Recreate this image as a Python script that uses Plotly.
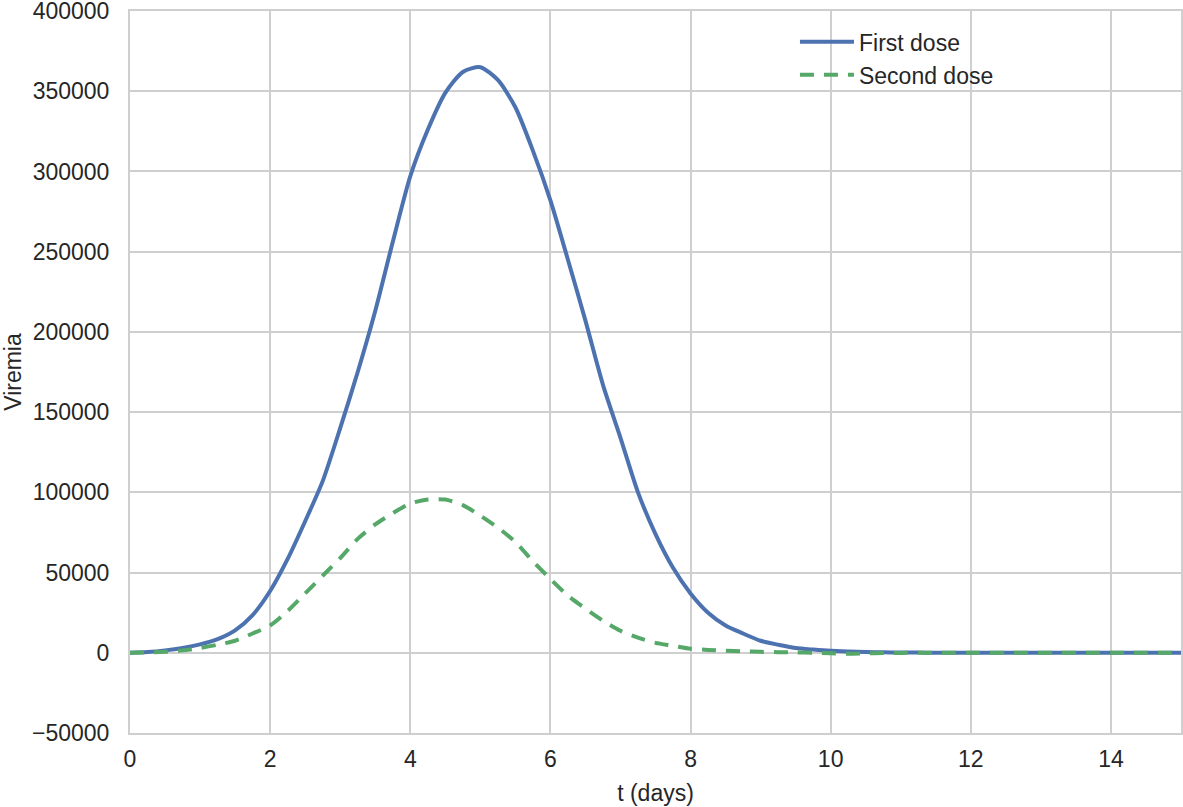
import plotly.graph_objects as go

t_days = [i * 0.25 for i in range(61)]

first_dose = [
    0, 500, 1500, 3000, 5200, 8500, 14000, 23500, 38500, 58500,
    82000, 107000, 140000, 175000, 213000, 256000, 297000, 326000, 349000, 362000,
    365000, 357000, 340000, 313000, 282000, 245000, 207000, 167000, 134000, 100000,
    74000, 53000, 37000, 25000, 17000, 12000, 7500, 5000, 3000, 2000,
    1200, 800, 500, 300, 200, 100, 0, 0, 0, 0,
    0, 0, 0, 0, 0, 0, 0, 0, 0, 0, 0,
]

second_dose = [
    0, 200, 600, 1500, 3000, 5000, 7500, 12000, 17000, 26000,
    37000, 48000, 59000, 71000, 80000, 87000, 93000, 95500, 95500, 92000,
    85500, 78000, 69000, 57000, 46000, 35600, 27500, 20000, 13700, 9400,
    6200, 4400, 2500, 1800, 1300, 900, 600, 400, 200, 0,
    -300, -600, -400, -200, -100, 0, 0, 0, 0, 0,
    0, 0, 0, 0, 0, 0, 0, 0, 0, 0, 0,
]

x_ticks = [0, 2, 4, 6, 8, 10, 12, 14]
y_ticks = [-50000, 0, 50000, 100000, 150000, 200000, 250000, 300000, 350000, 400000]

FONT = "Liberation Sans, Arial, Helvetica, sans-serif"
GRID = "#cfcfcf"
FS = 23

fig = go.Figure()
fig.add_trace(go.Scatter(
    x=t_days, y=first_dose, mode="lines", name="First dose",
    line=dict(color="#4C72B0", width=4, shape="spline", smoothing=0.7),
))
fig.add_trace(go.Scatter(
    x=t_days, y=second_dose, mode="lines", name="Second dose",
    line=dict(color="#55A868", width=4, dash="14px,10px", shape="spline", smoothing=0.7),
))

fig.update_layout(
    width=1183, height=807,
    margin=dict(l=130, r=2, t=11, b=74),
    paper_bgcolor="white", plot_bgcolor="white",
    font=dict(family=FONT, size=FS, color="#262626"),
    showlegend=True,
    legend=dict(
        x=0.6327, y=0.987, xanchor="left", yanchor="top",
        bgcolor="rgba(0,0,0,0)", borderwidth=0,
        font=dict(family=FONT, size=FS, color="#262626"),
        itemwidth=54,
    ),
    xaxis=dict(
        range=[0, 15], tickvals=x_ticks, ticktext=[str(v) for v in x_ticks],
        showgrid=True, gridcolor=GRID, gridwidth=2,
        showline=True, linecolor=GRID, linewidth=2, mirror=True,
        zeroline=False, ticks="outside", ticklen=4, tickcolor="rgba(0,0,0,0)",
        title=dict(text="t (days)", font=dict(size=FS), standoff=14),
        tickfont=dict(size=FS),
        automargin=False, ticklabeloverflow="allow",
    ),
    yaxis=dict(
        range=[-50000, 400000], tickvals=y_ticks, tickformat="d",
        showgrid=True, gridcolor=GRID, gridwidth=2,
        showline=True, linecolor=GRID, linewidth=2, mirror=True,
        zeroline=False, ticks="outside", ticklen=14, tickcolor="rgba(0,0,0,0)",
        title=dict(text="Viremia", font=dict(size=FS), standoff=8),
        tickfont=dict(size=FS),
        automargin=False, ticklabeloverflow="allow",
    ),
)

fig.write_html(
    "out.html",
    config={"displayModeBar": False},
    post_script="document.body.style.margin='0';",
)
